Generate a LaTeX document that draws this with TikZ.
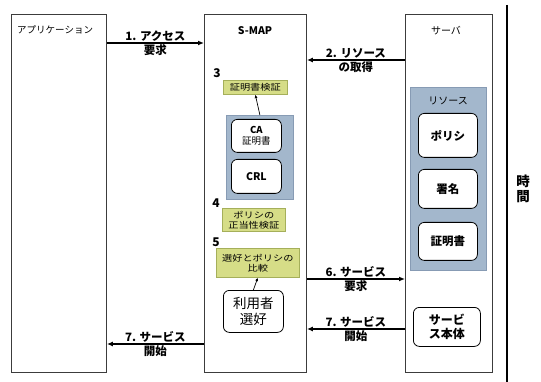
\documentclass[tikz,border=0pt]{standalone}
\usepackage{fontspec}
\setmainfont{Noto Sans CJK JP}
\usetikzlibrary{arrows.meta}
\definecolor{greenfill}{RGB}{214,221,135}
\definecolor{greenline}{RGB}{165,175,90}
\definecolor{bluefill}{RGB}{163,183,204}
\definecolor{blueline}{RGB}{135,155,180}
\definecolor{laneline}{RGB}{60,60,60}
\tikzset{
  lane/.style={draw=laneline, line width=0.9pt, anchor=north west, inner sep=0pt},
  greenbox/.style={draw=greenline, fill=greenfill, line width=0.6pt, anchor=north west, inner sep=0pt, align=center, font=\fontsize{8.5}{10}\selectfont\addfontfeature{FakeStretch=1.2}},
  bluebox/.style={draw=blueline, fill=bluefill, line width=0.8pt, anchor=north west, inner sep=0pt},
  rbox/.style={draw=black, fill=white, rounded corners=6pt, line width=0.8pt, anchor=north west, inner sep=0pt, align=center},
  arr/.style={-{Latex[length=6pt,width=5pt]}, line width=1.4pt},
  smallarr/.style={-{Latex[length=3.5pt,width=3pt]}, line width=0.7pt},
  lbl/.style={font=\fontsize{11.5}{13}\bfseries\selectfont, inner sep=1.2pt},
  num/.style={font=\fontsize{12}{13}\bfseries\selectfont, inner sep=0pt},
}
\begin{document}
\begin{tikzpicture}[x=1pt,y=-1pt]
\useasboundingbox (0,0) rectangle (541,382);
% lanes
\node[lane, minimum width=95pt, minimum height=358pt] (app) at (11,14) {};
\node[lane, minimum width=102pt, minimum height=358pt] (smap) at (204,14) {};
\node[lane, minimum width=87pt, minimum height=358pt] (srv) at (405,14) {};
\node[font=\fontsize{9.5}{11}\selectfont, anchor=west, inner sep=0pt] (applbl) at (17,30) {アプリケーション};
\node[font=\fontsize{10.5}{11}\bfseries\selectfont] (smaplbl) at (255,31) {S-MAP};
\node[font=\fontsize{10}{11}\selectfont] (srvlbl) at (446,31) {サーバ};
% time axis
\coordinate (t1) at (507,5);
\coordinate (t2) at (507,382);
\draw[line width=1.2pt] (t1) -- (t2);
\node[font=\fontsize{13.5}{15.5}\bfseries\selectfont, align=center] (time) at (523,189) {時\\間};
% S-MAP internals
\node[num] (n3) at (217,73) {3};
\node[greenbox, minimum width=64pt, minimum height=14pt] (g3) at (223,80) {証明書検証};
\node[bluebox, minimum width=67pt, minimum height=84pt] (cab) at (226,115) {};
\node[rbox, minimum width=50pt, minimum height=33pt, font=\fontsize{9.5}{11}\selectfont] (ca) at (231,119) {\textbf{CA}\\証明書};
\node[rbox, minimum width=50pt, minimum height=34pt, font=\fontsize{10.5}{11}\bfseries\selectfont] (crl) at (231,159) {CRL};
\draw[smallarr] (cab.north) -- (g3.south);
\node[num] (n4) at (216,203) {4};
\node[greenbox, minimum width=63pt, minimum height=23pt] (g4) at (222,208) {ポリシの\\正当性検証};
\node[num] (n5) at (216,242) {5};
\node[greenbox, minimum width=83pt, minimum height=29pt] (g5) at (216,248) {選好とポリシの\\比較};
\node[rbox, minimum width=60pt, minimum height=42pt, font=\fontsize{13.5}{15.5}\selectfont] (pref) at (223,290) {利用者\\選好};
\draw[smallarr] (pref.north) -- (g5.south);
% server internals
\node[bluebox, minimum width=76pt, minimum height=183pt] (res) at (410,87) {};
\node[font=\fontsize{10}{11}\selectfont] (reslbl) at (448,101) {リソース};
\node[rbox, minimum width=59pt, minimum height=44pt, font=\fontsize{11.5}{12}\bfseries\selectfont] (pol) at (418,113) {ポリシ};
\node[rbox, minimum width=59pt, minimum height=39pt, font=\fontsize{11.5}{12}\bfseries\selectfont] (sig) at (418,169) {署名};
\node[rbox, minimum width=59pt, minimum height=38pt, font=\fontsize{11.5}{12}\bfseries\selectfont] (cert) at (418,222) {証明書};
\node[rbox, minimum width=67pt, minimum height=39pt, font=\fontsize{12}{14}\bfseries\selectfont] (svc) at (413,307) {サービ\\ス本体};
% messages
\draw[arr] (app.east |- {0,43}) -- node[lbl, above] {1. アクセス} node[lbl, below] {要求} (smap.west |- {0,43});
\draw[arr] (srv.west |- {0,60}) -- node[lbl, above] {2. リソース} node[lbl, below] {の取得} (smap.east |- {0,60});
\draw[arr] (smap.east |- {0,279}) -- node[lbl, above] {6. サービス} node[lbl, below] {要求} (srv.west |- {0,279});
\draw[arr] (srv.west |- {0,329}) -- node[lbl, above] {7. サービス} node[lbl, below] {開始} (smap.east |- {0,329});
\draw[arr] (smap.west |- {0,344}) -- node[lbl, above] {7. サービス} node[lbl, below] {開始} (app.east |- {0,344});
\end{tikzpicture}
\end{document}
